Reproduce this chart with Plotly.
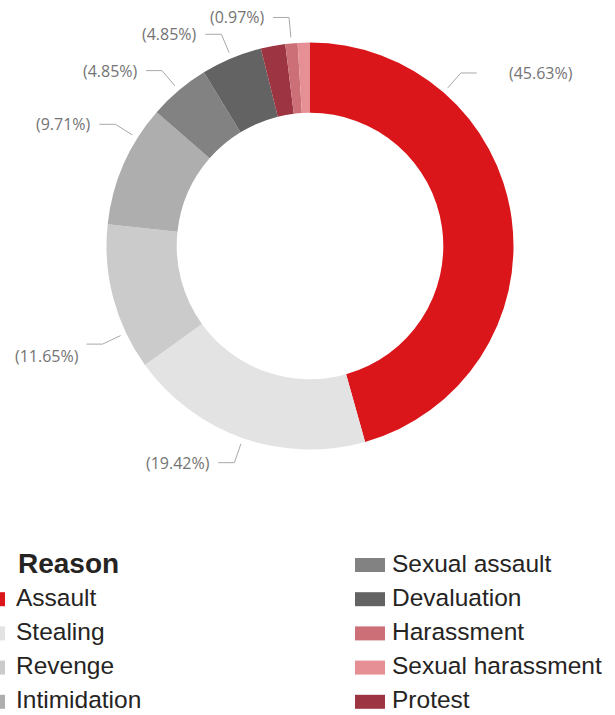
import math
import plotly.graph_objects as go

# ---- data ----
reasons = ["Assault", "Stealing", "Revenge", "Intimidation", "Sexual assault",
           "Devaluation", "Protest", "Harassment", "Sexual harassment"]
shares = [45.63, 19.42, 11.65, 9.71, 4.85, 4.85, 1.94, 0.97, 0.97]
colors = ["#DA161B", "#E3E3E3", "#CBCBCB", "#AEAEAE", "#828282",
          "#636363", "#9C3441", "#CD6F77", "#E69095"]
labelled = ["Assault", "Stealing", "Revenge", "Intimidation", "Sexual assault",
            "Devaluation", "Harassment"]
legend_col1 = ["Assault", "Stealing", "Revenge", "Intimidation"]
legend_col2 = ["Sexual assault", "Devaluation", "Harassment", "Sexual harassment", "Protest"]
legend_title = "Reason"

# ---- layout parameters (pixels) ----
W, H = 615, 715
CX, CY, R = 310, 246, 203.5
HOLE = 0.655
# where along each slice the leader line starts (label collision spreading)
anchor_frac = {"Assault": 0.25, "Revenge": 0.25, "Intimidation": 0.74}
text_dy = {"Revenge": 12}

def px(x):
    return x / W

def py(y):
    return 1 - y / H

color_of = dict(zip(reasons, colors))

fig = go.Figure(go.Pie(
    labels=reasons, values=shares, sort=False, direction="clockwise", rotation=0,
    hole=HOLE, marker=dict(colors=colors, line=dict(width=0)),
    textinfo="none", hoverinfo="label+percent", showlegend=False,
    domain=dict(x=[px(CX - R), px(CX + R)], y=[py(CY + R), py(CY - R)]),
))

shapes = []
annotations = []
total = sum(shares)
cum = 0.0
for name, v in zip(reasons, shares):
    start = cum / total * 360
    span = v / total * 360
    cum += v
    if name not in labelled:
        continue
    frac = anchor_frac.get(name, 0.5)
    ang = math.radians(start + frac * span)
    s, c = math.sin(ang), math.cos(ang)
    x1, y1 = CX + (R + 6) * s, CY - (R + 6) * c
    x2, y2 = CX + (R + 26) * s, CY - (R + 26) * c
    side = 1 if s >= 0 else -1
    x3 = x2 + side * 16
    shapes.append(dict(type="path", xref="paper", yref="paper",
                       path=f"M {px(x1)},{py(y1)} L {px(x2)},{py(y2)} L {px(x3)},{py(y2)}",
                       line=dict(color="#A8A8A8", width=1)))
    gap = 30 if side > 0 else 6
    annotations.append(dict(x=px(x3 + side * gap), y=py(y2 + text_dy.get(name, 0)),
                            xref="paper", yref="paper",
                            text=f"({v:.2f}%)", showarrow=False,
                            xanchor="left" if side > 0 else "right", yanchor="middle",
                            font=dict(family="Open Sans, Liberation Sans, sans-serif",
                                      size=16, color="#747474")))

# ---- manual legend ----
ROW0, STEP = 563, 34.2
item_font = dict(family="Liberation Sans, Arial, sans-serif", size=24.5, color="#252423")
annotations.append(dict(x=px(17), y=py(ROW0), xref="paper", yref="paper",
                        text=f"<b>{legend_title}</b>",
                        showarrow=False, xanchor="left", yanchor="middle", borderpad=0,
                        font=dict(family="Liberation Sans, Arial, sans-serif", size=28,
                                  color="#252423")))

def legend_item(name, row, sw_x0, text_x):
    y = ROW0 + row * STEP
    shapes.append(dict(type="rect", xref="paper", yref="paper",
                       x0=px(sw_x0), x1=px(sw_x0 + 30), y0=py(y - 7 + 2), y1=py(y + 7 + 2),
                       fillcolor=color_of[name], line=dict(width=0)))
    annotations.append(dict(x=px(text_x), y=py(y), xref="paper", yref="paper", text=name,
                            showarrow=False, xanchor="left", yanchor="middle", borderpad=0,
                            font=item_font))

for i, name in enumerate(legend_col1):
    legend_item(name, i + 1, -25, 15)
for i, name in enumerate(legend_col2):
    legend_item(name, i, 355, 391)

fig.update_layout(width=W, height=H, margin=dict(l=0, r=0, t=0, b=0),
                  paper_bgcolor="white", plot_bgcolor="white",
                  shapes=shapes, annotations=annotations)
fig.write_html("out.html")
